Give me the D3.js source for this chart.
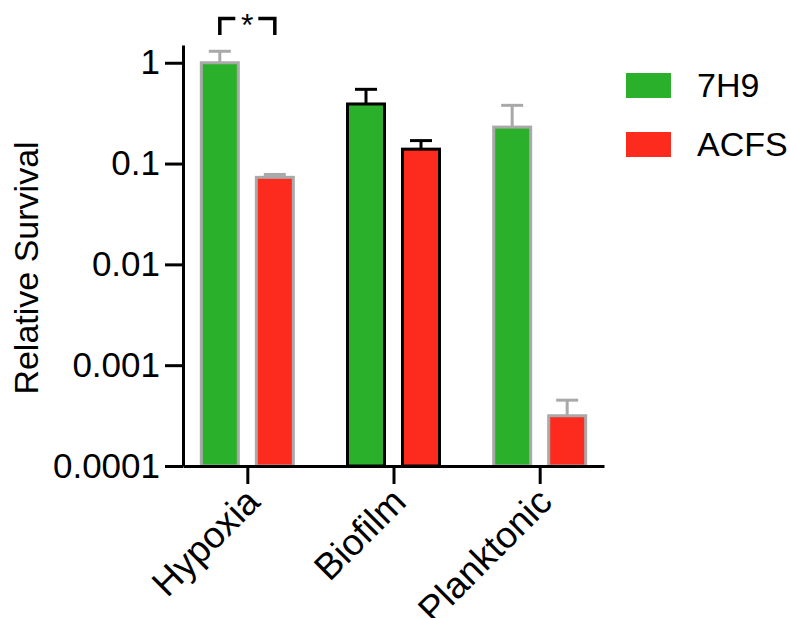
<!DOCTYPE html>
<html>
<head>
<meta charset="utf-8">
<script src="https://cdn.jsdelivr.net/npm/d3@7"></script>
<style>
  body { margin: 0; background: #fff; }
  svg { display: block; font-family: "Liberation Sans", Arial, sans-serif; }
</style>
</head>
<body>
<svg id="chart" width="790" height="618"></svg>
<script>
// ---- data ----
const categories = ["Hypoxia", "Biofilm", "Planktonic"];
const seriesNames = ["7H9", "ACFS"];
const values7H9 = [1.0, 0.39, 0.23];
const valuesACFS = [0.073, 0.139, 0.000315];
const errTop7H9 = [1.30, 0.545, 0.378];
const errTopACFS = [0.078, 0.169, 0.00045];
const yTickValues = [0.0001, 0.001, 0.01, 0.1, 1];
const yTickLabels = ["0.0001", "0.001", "0.01", "0.1", "1"];
const categoryStroke = ["#a9a9a9", "#000000", "#a9a9a9"];
const seriesColors = ["#2bb02c", "#fc2b1d"];
const significance = [{ category: "Hypoxia", label: "*" }];

const svg = d3.select("#chart");
const axisY = 466, axisX = 183;
const FONT = "Liberation Sans, Arial, sans-serif";

const y = d3.scaleLog().domain([0.0001, 1.5]).range([axisY, 45]);
const x = d3.scalePoint().domain(categories).range([axisX, 604]).padding(0.44);
const xs = d3.scaleBand().domain(seriesNames).range([-47.5, 47.5]).paddingInner(0.273);

const rows = [];
categories.forEach((c, i) => {
  rows.push({ c, i, s: "7H9", v: values7H9[i], e: errTop7H9[i] });
  rows.push({ c, i, s: "ACFS", v: valuesACFS[i], e: errTopACFS[i] });
});

const sw = 3;
const g = svg.append("g");

// error bars (drawn before bars)
rows.forEach(d => {
  const cx = x(d.c) + xs(d.s) + xs.bandwidth() / 2;
  const col = categoryStroke[d.i];
  g.append("line").attr("x1", cx).attr("x2", cx).attr("y1", y(d.v)).attr("y2", y(d.e))
    .attr("stroke", col).attr("stroke-width", sw);
  g.append("line").attr("x1", cx - 11).attr("x2", cx + 11).attr("y1", y(d.e)).attr("y2", y(d.e))
    .attr("stroke", col).attr("stroke-width", sw);
});

// bars
rows.forEach(d => {
  const bx = x(d.c) + xs(d.s);
  g.append("rect")
    .attr("x", bx + sw / 2)
    .attr("width", xs.bandwidth() - sw)
    .attr("y", y(d.v))
    .attr("height", axisY - y(d.v))
    .attr("fill", seriesColors[seriesNames.indexOf(d.s)])
    .attr("stroke", categoryStroke[d.i])
    .attr("stroke-width", sw);
});

// axes
const yAxis = d3.axisLeft(y).tickValues(yTickValues)
  .tickFormat((d, i) => yTickLabels[i]).tickSize(18).tickSizeOuter(0).tickPadding(5);
const ya = svg.append("g").attr("transform", `translate(${axisX},0)`).call(yAxis);
ya.select(".domain").attr("stroke-width", sw).attr("stroke", "#000");
ya.selectAll(".tick line").attr("stroke-width", sw).attr("stroke", "#000");
ya.selectAll(".tick text").attr("font-size", 35).attr("fill", "#000")
  .attr("font-family", FONT);

const xAxis = d3.axisBottom(x).tickSize(18).tickSizeOuter(0);
const xa = svg.append("g").attr("transform", `translate(0,${axisY})`).call(xAxis);
xa.select(".domain").attr("stroke-width", sw).attr("stroke", "#000");
xa.selectAll(".tick line").attr("stroke-width", sw).attr("stroke", "#000");
xa.selectAll(".tick text")
  .attr("font-size", 37).attr("fill", "#000")
  .attr("font-family", FONT)
  .attr("text-anchor", "end")
  .attr("dy", 0).attr("y", 0)
  .attr("transform", "translate(14,38) rotate(-45)");

// y title
svg.append("text")
  .attr("transform", "translate(38,268) rotate(-90)")
  .attr("text-anchor", "middle")
  .attr("font-size", 34)
  .text("Relative Survival");

// significance bracket
significance.forEach(sig => {
  const x1 = x(sig.category) + xs("7H9") + xs.bandwidth() / 2;
  const x2 = x(sig.category) + xs("ACFS") + xs.bandwidth() / 2;
  const mid = (x1 + x2) / 2;
  const top = 18.5, bot = 35;
  svg.append("path")
    .attr("d", `M${x1},${bot}V${top}H${mid - 12}M${mid + 11},${top}H${x2}V${bot}`)
    .attr("fill", "none").attr("stroke", "#000").attr("stroke-width", 3.5);
  svg.append("text").attr("x", mid).attr("y", 36).attr("text-anchor", "middle")
    .attr("font-size", 32).text(sig.label);
});

// legend
const lg = svg.append("g");
seriesNames.forEach((s, i) => {
  const ly = 73 + i * 59;
  lg.append("rect").attr("x", 626).attr("y", ly).attr("width", 45).attr("height", 25)
    .attr("fill", seriesColors[i]);
  lg.append("text").attr("x", 697).attr("y", ly + 24).attr("font-size", 34).text(s);
});
</script>
</body>
</html>
